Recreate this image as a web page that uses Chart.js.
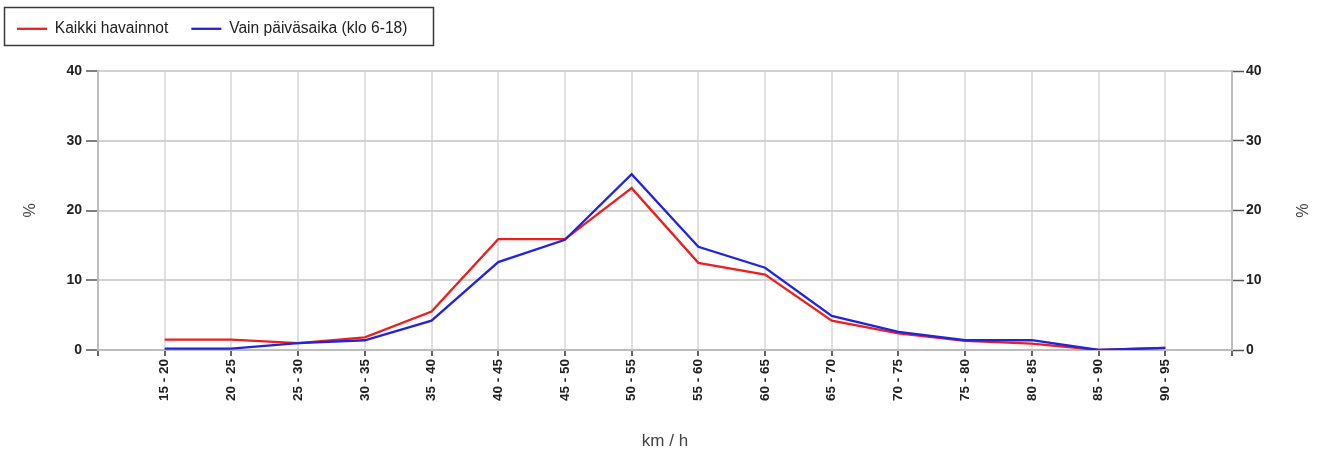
<!DOCTYPE html>
<html>
<head>
<meta charset="utf-8">
<script src="https://cdn.jsdelivr.net/npm/chart.js@4.4.0/dist/chart.umd.min.js"></script>
<style>
html,body{margin:0;padding:0;background:#fff;}
#wrap{width:1321px;height:454px;position:relative;}
canvas{display:block;}
</style>
</head>
<body>
<div id="wrap"><canvas id="c" width="1321" height="454"></canvas></div>
<script>
// ---- data ----
const categories = ['15 - 20','20 - 25','25 - 30','30 - 35','35 - 40','40 - 45','45 - 50','50 - 55',
                    '55 - 60','60 - 65','65 - 70','70 - 75','75 - 80','80 - 85','85 - 90','90 - 95'];
const allObservations = [1.5, 1.5, 1.0, 1.8, 5.5, 15.9, 15.9, 23.2, 12.5, 10.8, 4.2, 2.4, 1.3, 0.9, 0.0, 0.3];
const daytimeOnly     = [0.2, 0.2, 1.0, 1.4, 4.2, 12.6, 15.8, 25.2, 14.8, 11.8, 4.9, 2.6, 1.4, 1.4, 0.0, 0.3];
const yTicks = [0, 10, 20, 30, 40];
const seriesNames = ['Kaikki havainnot', 'Vain päiväsaika (klo 6-18)'];
const xTitle = 'km / h';
const yTitle = '%';

// ---- chart ----
const FONT = "'Liberation Sans', Arial, sans-serif";
Chart.defaults.font.family = FONT;

const xLabels = [''].concat(categories, ['']);
const pad = arr => [null].concat(arr, [null]);

const legendFrame = {
  id: 'legendFrame',
  beforeLayout(chart) {
    const lg = chart.legend;
    if (lg && !lg._fixedH) {
      const fit = lg.fit;
      lg.fit = function () { fit.call(this); this.height = 73; };
      lg._fixedH = true;
    }
  },
  afterDraw(chart) {
    const ctx = chart.ctx;
    ctx.save();
    ctx.strokeStyle = '#3a3a3a';
    ctx.lineWidth = 1.5;
    ctx.strokeRect(4.5, 7.5, 429, 38);
    ctx.restore();
  }
};

const tickFont = {family: FONT, size: 14, weight: 'bold'};
const xTickFont = {family: FONT, size: 13.5, weight: 'bold'};

new Chart(document.getElementById('c'), {
  type: 'line',
  data: {
    labels: xLabels,
    datasets: [
      {label: seriesNames[0], data: pad(allObservations), borderColor: '#ea2020', backgroundColor: '#ea2020',
       borderWidth: 2.3, pointRadius: 0, tension: 0, order: 1, yAxisID: 'y'},
      {label: seriesNames[1], data: pad(daytimeOnly), borderColor: '#2323dd', backgroundColor: '#2323dd',
       borderWidth: 2.3, pointRadius: 0, tension: 0, order: 0, yAxisID: 'y'}
    ]
  },
  options: {
    responsive: false,
    animation: false,
    layout: {padding: {left: -6, top: -2, right: 0, bottom: 0}},
    plugins: {
      legend: {
        position: 'top', align: 'start',
        labels: {usePointStyle: true, pointStyle: 'line', pointStyleWidth: 30, padding: 23,
                 font: {family: FONT, size: 15.6}, color: '#222',
                 sort: (a, b) => a.datasetIndex - b.datasetIndex}
      },
      tooltip: {enabled: false}
    },
    scales: {
      x: {
        type: 'category', offset: false,
        grid: {color: '#e0e0e0', lineWidth: 2, tickColor: '#666', tickLength: 6, tickWidth: 2},
        border: {color: '#bdbdbd', width: 2},
        ticks: {autoSkip: false, minRotation: 90, maxRotation: 90, padding: 3, font: xTickFont, color: '#222'},
        title: {display: true, text: xTitle, font: {family: FONT, size: 17}, color: '#444', padding: {top: 0, bottom: 2}},
        afterFit(s) { s.height = 104; }
      },
      y: {
        position: 'left', min: 0, max: 40,
        afterBuildTicks(s) { s.ticks = yTicks.map(v => ({value: v})); },
        grid: {color: '#d2d2d2', lineWidth: 2, tickColor: '#555', tickLength: 12, tickWidth: 1.5},
        border: {color: '#bdbdbd', width: 2},
        ticks: {padding: 4, font: tickFont, color: '#222'},
        title: {display: true, text: yTitle, font: {family: FONT, size: 16}, color: '#444', padding: {top: 27, bottom: 0}},
        afterFit(s) { s.width = 104; }
      },
      y2: {
        position: 'right', min: 0, max: 40,
        afterBuildTicks(s) { s.ticks = yTicks.map(v => ({value: v})); },
        grid: {drawOnChartArea: false, tickColor: '#555', tickLength: 12, tickWidth: 1.5},
        border: {color: '#bdbdbd', width: 2},
        ticks: {padding: 2, font: tickFont, color: '#222'},
        title: {display: true, text: yTitle, font: {family: FONT, size: 16}, color: '#444', padding: {top: 11, bottom: 0}},
        afterFit(s) { s.width = 89; }
      }
    }
  },
  plugins: [legendFrame]
});
</script>
</body>
</html>
